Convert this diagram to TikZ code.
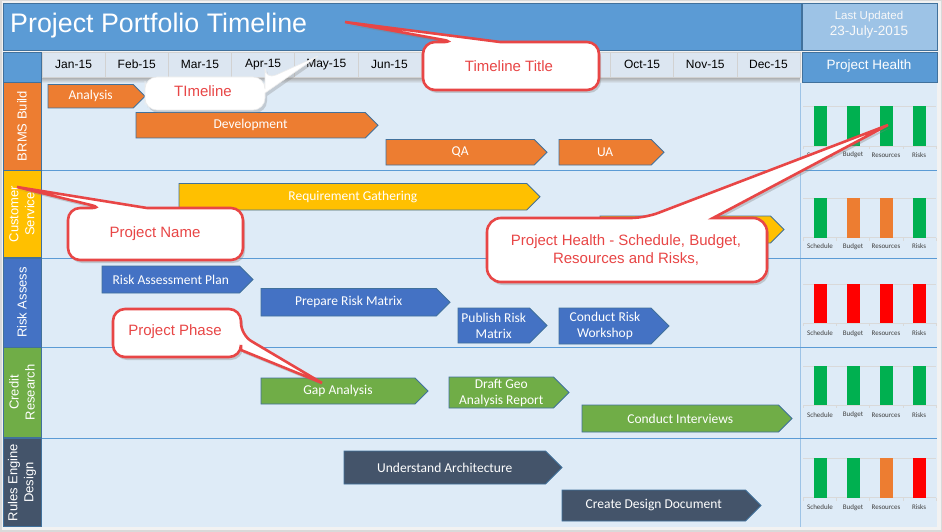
\documentclass[tikz,border=0pt]{standalone}
\usepackage{fontspec}
\setmainfont{Liberation Sans}
\newfontfamily\calfont{Carlito}
\usetikzlibrary{shadows}
\definecolor{titleblue}{HTML}{5B9BD5}
\definecolor{lightblue}{HTML}{9DC3E6}
\definecolor{bgblue}{HTML}{DEEBF7}
\definecolor{edgeblue}{HTML}{41719C}
\definecolor{orangeC}{HTML}{ED7D31}
\definecolor{goldC}{HTML}{FFC000}
\definecolor{blueC}{HTML}{4472C4}
\definecolor{greenC}{HTML}{70AD47}
\definecolor{slateC}{HTML}{44546A}
\definecolor{hgreen}{HTML}{00B050}
\definecolor{hred}{HTML}{FF0000}
\definecolor{calred}{HTML}{E84646}
\definecolor{monthbg}{HTML}{DCE6F1}
\definecolor{framegray}{HTML}{D9D9D9}

\tikzset{
  cellbox/.style={draw=edgeblue, line width=0.8pt, anchor=north west, inner sep=0pt, outer sep=0pt},
  monthcell/.style={fill=monthbg, draw=gray!35, line width=0.6pt, minimum width=63.17pt, minimum height=25pt, inner sep=0pt, font=\fontsize{12}{14}\selectfont},
  rowlabel/.style={rotate=90, text=white, align=center, font=\fontsize{13}{16}\selectfont, inner sep=0pt},
  phasebox/.style={draw=edgeblue, line width=0.8pt},
  phasetext/.style={text=white, align=center, inner sep=0pt, font=\calfont\fontsize{13.5}{16}\selectfont},
  hgrid/.style={draw=gray!30, line width=0.8pt},
  hlab/.style={text=black!75, inner sep=0pt, font=\calfont\fontsize{7}{8}\selectfont},
  calloutbox/.style={draw=calred, line width=2.6pt, fill=white, line join=miter,
     drop shadow={opacity=0.35, shadow xshift=2pt, shadow yshift=-3pt}},
  plaincallout/.style={draw=gray!15, line width=0.6pt, fill=white,
     drop shadow={opacity=0.3, shadow xshift=2pt, shadow yshift=-3pt}},
  calltext/.style={text=calred, align=center, inner sep=0pt, font=\fontsize{15}{18.5}\selectfont},
  sepline/.style={draw=titleblue, line width=1pt}
}

\newcommand\phasebar[7]{%
  \pgfmathsetmacro\pym{(#3+#5)/2}%
  \pgfmathsetmacro\ptx{#4-(#5-#3)/2}%
  \pgfmathsetmacro\pcx{(#2+\ptx)/2}%
  \draw[phasebox,fill=#6] (#2,#3) -- (\ptx,#3) -- (#4,\pym) -- (\ptx,#5) -- (#2,#5) -- cycle;
  \node[phasetext] (#1) at (\pcx,\pym) {#7};}

\newcommand\healthrow[8]{%
  \draw[hgrid] (803,#2) -- (936,#2);
  \draw[hgrid] (803,#3) -- (936,#3);
  \foreach \tx in {803,836,869,903,936} \draw[hgrid] (\tx,#3) -- (\tx,#3+3);
  \fill[#5] (813.5,#2) rectangle (826.5,#3);
  \fill[#6] (846.5,#2) rectangle (859.5,#3);
  \fill[#7] (879.5,#2) rectangle (892.5,#3);
  \fill[#8] (912.5,#2) rectangle (925.5,#3);
  \node[hlab] (#1s) at (820,#4) {Schedule};
  \node[hlab] (#1b) at (853,#4) {Budget};
  \node[hlab] (#1r) at (886,#4) {Resources};
  \node[hlab] (#1k) at (919,#4) {Risks};}

\begin{document}
\begin{tikzpicture}[x=1pt,y=-1pt]
\useasboundingbox (0,0) rectangle (942,532);
\fill[framegray] (0,0) rectangle (942,532);
\fill[white!90!gray] (1.5,1.5) rectangle (940.5,530);

% title bar
\node[cellbox, fill=titleblue, minimum width=798pt, minimum height=47pt] (title) at (3,3) {};
\node[anchor=west, text=white, inner sep=0pt, font=\fontsize{26.8}{30}\selectfont] (titletext) at (10,26) {Project Portfolio Timeline};
\node[cellbox, fill=lightblue, minimum width=135pt, minimum height=47pt] (upd) at (802,3) {};
\node[text=white!95!gray, align=center, inner sep=0pt, font=\fontsize{11.5}{16}\selectfont] (updtext) at (869,25) {Last Updated\\{\fontsize{13.5}{16}\selectfont 23-July-2015}};

% header row
\node[cellbox, fill=titleblue, minimum width=38pt, minimum height=30pt] (corner) at (3,52) {};
\shade[top color=gray!70, bottom color=bgblue] (42,77) rectangle (800,83);
\foreach \m [count=\i from 0] in {Jan-15,Feb-15,Mar-15,Apr-15,May-15,Jun-15,{},{},{},Oct-15,Nov-15,Dec-15}
  \node[monthcell] (m\i) at ({42+63.17*\i+31.585},64.5) {\m};
\node[cellbox, fill=titleblue, minimum width=135pt, minimum height=30pt] (phhead) at (802,52) {};
\node[text=white, inner sep=0pt, font=\fontsize{13.5}{16}\selectfont] (phtext) at (869,66.5) {Project Health};

% content backgrounds
\fill[bgblue] (42,83) rectangle (800,527);
\fill[bgblue] (801,83) rectangle (937,527);
\draw[draw=lightblue, line width=1.2pt] (800.5,83) -- (800.5,527);
\foreach \yy in {170.5,258,347.5,438.5} \draw[sepline] (42,\yy) -- (937,\yy);

% project labels
\node[cellbox, fill=orangeC, minimum width=38pt, minimum height=88pt] (p1) at (3,82) {};
\node[cellbox, fill=goldC, minimum width=38pt, minimum height=87pt] (p2) at (3,170.5) {};
\node[cellbox, fill=blueC, minimum width=38pt, minimum height=89pt] (p3) at (3,258) {};
\node[cellbox, fill=greenC, minimum width=38pt, minimum height=90pt] (p4) at (3,347.5) {};
\node[cellbox, fill=slateC, minimum width=38pt, minimum height=88pt] (p5) at (3,438.5) {};
\node[rowlabel] at (p1.center) {BRMS Build};
\node[rowlabel] at (p2.center) {Customer\\Service};
\node[rowlabel] at (p3.center) {Risk Assess};
\node[rowlabel] at (p4.center) {Credit\\Research};
\node[rowlabel] at (p5.center) {Rules Engine\\Design};

% phases
\phasebar{analysis}{48}{84.5}{145}{108}{orangeC}{Analysis}
\phasebar{dev}{136}{112.5}{378}{138}{orangeC}{Development}
\phasebar{qa}{386}{139.5}{547}{165}{orangeC}{QA}
\phasebar{ua}{559}{139.5}{664}{165}{orangeC}{UA}
\phasebar{req}{179}{183.5}{540}{210}{goldC}{Requirement Gathering}
\phasebar{csx}{600}{216}{784}{243}{goldC}{}
\phasebar{rap}{102}{266}{253}{293}{blueC}{Risk Assessment Plan}
\phasebar{prm}{261}{288.5}{450}{316}{blueC}{Prepare Risk Matrix}
\phasebar{pub}{458}{308}{547}{343}{blueC}{Publish Risk\\Matrix}
\phasebar{crw}{559}{308}{669}{344}{blueC}{Conduct Risk\\Workshop}
\phasebar{gap}{261}{378}{428}{404}{greenC}{Gap Analysis}
\phasebar{geo}{449}{377}{569}{408}{greenC}{Draft Geo\\Analysis Report}
\phasebar{cint}{582}{405}{792}{432}{greenC}{Conduct Interviews}
\phasebar{ua2}{344}{451}{562}{484}{slateC}{Understand Architecture}
\phasebar{cdd}{562}{490}{761}{521}{slateC}{Create Design Document}

% health
\healthrow{ha}{106.5}{146}{155}{hgreen}{hgreen}{hgreen}{hgreen}
\healthrow{hb}{198}{237.5}{246.5}{hgreen}{orangeC}{orangeC}{hgreen}
\healthrow{hc}{284}{323}{333.5}{hred}{hred}{hred}{hred}
\healthrow{hd}{366}{405}{415}{hgreen}{hgreen}{hgreen}{hgreen}
\healthrow{he}{458}{497.5}{507.5}{hgreen}{hgreen}{orangeC}{hred}

% callouts
\coordinate (tipTitle) at (345,22);
\draw[calloutbox] (423,66) [rounded corners=12pt] -- (423,42) -- (455,42) [sharp corners] -- (tipTitle) -- (500,42) [rounded corners=12pt] -- (599,42) -- (599,90) -- (423,90) -- cycle;
\node[calltext] (cTitle) at (509,66) {Timeline Title};

\coordinate (tipTime) at (318,56);
\draw[plaincallout] (145,93) [rounded corners=12pt] -- (145,77) -- (265,77) -- (265,80) [sharp corners] -- (tipTime) -- (265,93) [rounded corners=12pt] -- (265,110) -- (145,110) -- cycle;
\node[calltext] (cTime) at (203,91) {TImeline};

\coordinate (tipName) at (17,187);
\draw[calloutbox] (68,234) [rounded corners=12pt] -- (68,208) -- (103,208) [sharp corners] -- (tipName) -- (147,208) [rounded corners=12pt] -- (243,208) -- (243,260) -- (68,260) -- cycle;
\node[calltext] (cName) at (155,234) {Project Name};

\coordinate (tipHealth) at (888,125);
\draw[calloutbox] (487,250) [rounded corners=14pt] -- (487,218) -- (645,218) [sharp corners] -- (tipHealth) -- (713,218) [rounded corners=14pt] -- (767,218) -- (767,282) -- (487,282) -- cycle;
\node[calltext] (cHealth) at (626,250) {Project Health - Schedule, Budget,\\Resources and Risks,};

\coordinate (tipPhase) at (322,383);
\draw[calloutbox] (113,333) [rounded corners=12pt] -- (113,309) -- (241,309) -- (241,335) [sharp corners] -- (tipPhase) -- (241,350) [rounded corners=12pt] -- (241,357) -- (113,357) -- cycle;
\node[calltext] (cPhase) at (175,332) {Project Phase};
\end{tikzpicture}
\end{document}
